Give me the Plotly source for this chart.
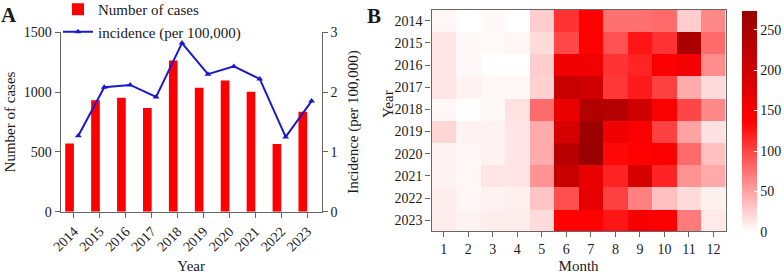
import plotly.graph_objects as go

years = [2014, 2015, 2016, 2017, 2018, 2019, 2020, 2021, 2022, 2023]
year_labels = [str(y) for y in years]
cases = [570, 931, 953, 867, 1264, 1036, 1097, 1003, 567, 836]
incidence = [1.27, 2.08, 2.12, 1.92, 2.82, 2.30, 2.43, 2.22, 1.25, 1.85]

months = [1, 2, 3, 4, 5, 6, 7, 8, 9, 10, 11, 12]
month_labels = [str(m) for m in months]
heat_2014 = [5, 0, 3, 0, 27, 109, 136, 76, 76, 79, 27, 63]
heat_2015 = [14, 4, 3, 5, 19, 98, 136, 92, 125, 109, 250, 79]
heat_2016 = [14, 4, 0, 0, 27, 157, 154, 109, 118, 140, 152, 61]
heat_2017 = [14, 7, 4, 4, 24, 211, 200, 107, 122, 102, 45, 20]
heat_2018 = [5, 1, 4, 16, 80, 163, 240, 235, 200, 143, 99, 63]
heat_2019 = [22, 7, 7, 14, 45, 191, 269, 157, 143, 102, 50, 16]
heat_2020 = [7, 5, 7, 14, 45, 232, 272, 132, 136, 143, 79, 34]
heat_2021 = [7, 5, 14, 14, 58, 211, 163, 118, 191, 118, 58, 46]
heat_2022 = [10, 5, 7, 8, 31, 94, 170, 102, 68, 34, 19, 8]
heat_2023 = [10, 7, 10, 10, 19, 136, 136, 125, 147, 141, 71, 12]
heat_rows = [heat_2014, heat_2015, heat_2016, heat_2017, heat_2018,
             heat_2019, heat_2020, heat_2021, heat_2022, heat_2023]

FONT = "Liberation Serif"
W, H = 784, 274
AX = "#666666"
TXT = "#1a1a1a"

bar_w = 0.335
line_shift = 0.17

fig = go.Figure()
fig.add_trace(go.Bar(
    x=years, y=cases, name="Number of cases",
    marker=dict(color="#ff0000", line=dict(width=0)),
    width=bar_w, offset=-bar_w, xaxis="x", yaxis="y",
))
fig.add_trace(go.Scatter(
    x=[y + line_shift for y in years], y=incidence, name="incidence (per 100,000)",
    mode="lines+markers", line=dict(color="#1a1acc", width=2),
    marker=dict(symbol="triangle-up", size=6, color="#1a1acc"),
    xaxis="x", yaxis="y2",
))
fig.add_trace(go.Heatmap(
    z=heat_rows, x=months, y=year_labels,
    colorscale=[[0, "#ffffff"], [0.5, "#ff0000"], [1, "#990000"]],
    zmin=0, zmax=273, xaxis="x3", yaxis="y3", showscale=True, xgap=0, ygap=0,
    showlegend=False,
    colorbar=dict(
        x=741.7 / W, xanchor="left", y=1 - 121.5 / H, yanchor="middle",
        len=221 / H, lenmode="fraction", thickness=15, xpad=0, ypad=0,
        outlinewidth=0, tickvals=[0, 50, 100, 150, 200, 250],
        ticks="inside", ticklen=3, tickcolor="white",
        tickfont=dict(family=FONT, size=14, color=TXT),
    ),
))

axis_common = dict(showline=True, linecolor=AX, linewidth=1.2, ticks="outside",
                   ticklen=5, tickcolor=AX, tickfont=dict(family=FONT, size=14, color=TXT),
                   showgrid=False, zeroline=False, automargin=False)

fig.update_layout(
    template="none",
    width=W, height=H, margin=dict(l=0, r=0, t=0, b=0, autoexpand=False),
    paper_bgcolor="white", plot_bgcolor="white",
    font=dict(family=FONT, size=14, color=TXT),
    showlegend=True,
    legend=dict(x=58 / W, y=1 + 7 / H, xanchor="left", yanchor="top",
                bgcolor="rgba(0,0,0,0)", font=dict(family=FONT, size=15, color=TXT),
                tracegroupgap=0),
    xaxis=dict(domain=[60.7 / W, 321.7 / W], range=[2013.49, 2023.56],
               tickvals=years, ticktext=year_labels, tickangle=-45,
               title=dict(text="Year", font=dict(family=FONT, size=15, color=TXT), standoff=9),
               anchor="y", **axis_common),
    yaxis=dict(domain=[1 - 211.7 / H, 1 - 32.3 / H], range=[0, 1500],
               tickvals=[0, 500, 1000, 1500],
               title=dict(text="Number of cases", font=dict(family=FONT, size=15, color=TXT), standoff=4),
               anchor="x", **axis_common),
    yaxis2=dict(overlaying="y", side="right", range=[0, 3], tickvals=[0, 1, 2, 3],
                title=dict(text="Incidence (per 100,000)", font=dict(family=FONT, size=15, color=TXT), standoff=10),
                anchor="x", **axis_common),
    xaxis3=dict(domain=[431.5 / W, 725.7 / W], anchor="y3", range=[0.5, 12.5],
                tickvals=months, ticktext=month_labels, mirror=True,
                title=dict(text="Month", font=dict(family=FONT, size=15, color=TXT), standoff=5),
                **axis_common),
    yaxis3=dict(domain=[1 - 231.3 / H, 1 - 9.7 / H], anchor="x3", autorange="reversed",
                type="category", mirror=True,
                **axis_common),
    annotations=[
        dict(text="<b>A</b>", x=-1 / W, y=1 - 1 / H, xref="paper", yref="paper",
             xanchor="left", yanchor="top", showarrow=False,
             font=dict(family=FONT, size=21, color=TXT)),
        dict(text="<b>B</b>", x=365 / W, y=1 - 2 / H, xref="paper", yref="paper",
             xanchor="left", yanchor="top", showarrow=False,
             font=dict(family=FONT, size=21, color=TXT)),
        dict(text="Year", x=388 / W, y=1 - 104 / H, xref="paper", yref="paper",
             xanchor="center", yanchor="middle", textangle=-90, showarrow=False,
             font=dict(family=FONT, size=15, color=TXT)),
    ],
)

fig.write_html("out.html", config={"displayModeBar": False},
               post_script="document.body.style.margin='0';document.body.style.overflow='hidden';")
